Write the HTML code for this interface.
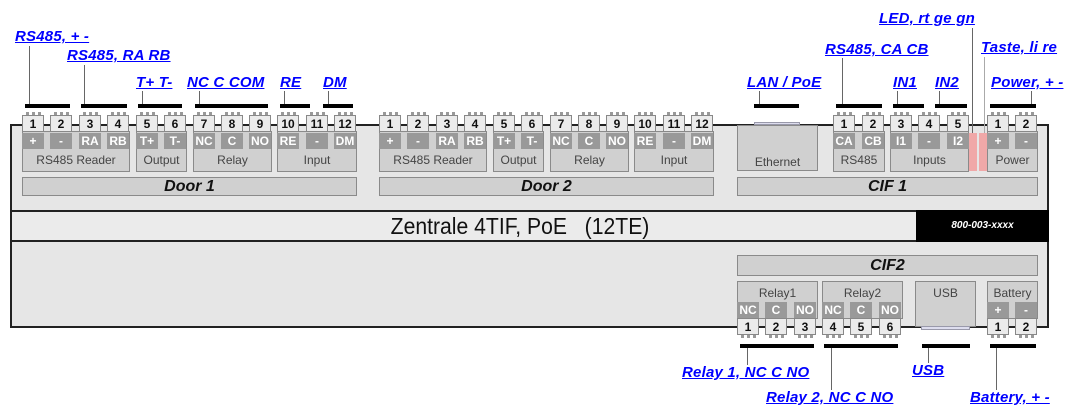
<!DOCTYPE html>
<html><head><meta charset="utf-8"><style>
*{margin:0;padding:0;box-sizing:border-box}
body{width:1083px;height:417px;background:#fff;position:relative;overflow:hidden;font-family:"Liberation Sans",sans-serif}
div{position:absolute}
.main{left:10px;top:124px;width:1039px;height:204px;background:#e6e6e6;border:2px solid #222}
.band{left:10px;top:210px;width:1039px;height:32px;background:#ebebeb;border:2px solid #222}
.serial{left:916px;top:210px;width:133px;height:32px;background:#000;color:#fff;font-style:italic;font-weight:bold;font-size:10px;text-align:center;line-height:32px}
.title{left:300px;top:210px;width:440px;height:32px;text-align:center;line-height:32px;font-size:23px;color:#111;transform:scaleX(0.92)}
.g{background:#d0d0d0;border:1px solid #8a8a8a;color:#444;font-size:12px;text-align:center}
.gt{top:131px;height:41px;line-height:56px}
.bar{background:#d0d0d0;border:1px solid #8a8a8a;font-weight:bold;font-style:italic;font-size:16px;text-align:center;color:#111}
.n{width:22px;height:17px;background:#ebebeb;border:1px solid #888;font-size:12px;font-weight:bold;text-align:center;line-height:16px;color:#111}
.n::before{content:"";position:absolute;left:3px;width:15px;height:3px;background:repeating-linear-gradient(90deg,#999 0 3px,transparent 3px 6px)}
.nt{top:115px}.nt::before{top:-4px}
.nb{top:318px}.nb::before{bottom:-4px}
.l{width:22px;height:16px;background:#999;color:#fff;font-size:12px;font-weight:bold;text-align:center;line-height:16px}
.lt{top:133px}.lb{top:302px}
.k{height:4px;background:#000}
.v{width:1px;background:#666}
.a{color:#00f;font-weight:bold;font-style:italic;text-decoration:underline;font-size:15px;white-space:nowrap;line-height:16px;letter-spacing:0.2px}
</style></head><body>
<div class="main"></div>
<div class="band"></div>
<div class="serial">800-003-xxxx</div>
<div class="title">Zentrale 4TIF, PoE &nbsp;&nbsp;(12TE)</div>

<div class="g gt" style="left:22px;width:108px">RS485 Reader</div>
<div class="g gt" style="left:136px;width:51px">Output</div>
<div class="g gt" style="left:193px;width:79px">Relay</div>
<div class="g gt" style="left:277px;width:80px">Input</div>
<div class="bar" style="left:22px;top:177px;width:335px;height:19px;line-height:18px">Door 1</div>
<div class="g gt" style="left:379px;width:108px">RS485 Reader</div>
<div class="g gt" style="left:493px;width:51px">Output</div>
<div class="g gt" style="left:550px;width:79px">Relay</div>
<div class="g gt" style="left:634px;width:80px">Input</div>
<div class="bar" style="left:379px;top:177px;width:335px;height:19px;line-height:18px">Door 2</div>
<div class="g" style="left:737px;top:125px;width:81px;height:46px;line-height:72px">Ethernet</div>
<div style="left:754px;top:122px;width:46px;height:3px;background:#dde;border:1px solid #99a"></div>
<div class="g gt" style="left:833px;width:52px">RS485</div>
<div class="g gt" style="left:890px;width:79px">Inputs</div>
<div class="g gt" style="left:987px;width:51px">Power</div>
<div style="left:969px;top:133px;width:8px;height:38px;background:#f0a8a8"></div>
<div style="left:979px;top:133px;width:8px;height:38px;background:#f0a8a8"></div>
<div class="bar" style="left:737px;top:177px;width:301px;height:19px;line-height:18px">CIF 1</div>
<div class="bar" style="left:737px;top:255px;width:301px;height:21px;line-height:20px">CIF2</div>
<div class="g" style="left:737px;top:281px;width:81px;height:38px;line-height:22px">Relay1</div>
<div class="g" style="left:822px;top:281px;width:81px;height:38px;line-height:22px">Relay2</div>
<div class="g" style="left:915px;top:281px;width:61px;height:46px;line-height:22px">USB</div>
<div style="left:921px;top:326px;width:49px;height:4px;background:#dde;border:1px solid #99a"></div>
<div class="g" style="left:987px;top:281px;width:51px;height:38px;line-height:22px">Battery</div>

<div class="n nt" style="left:22px">1</div><div class="l lt" style="left:22px">+</div>
<div class="n nt" style="left:50px">2</div><div class="l lt" style="left:50px">-</div>
<div class="n nt" style="left:79px">3</div><div class="l lt" style="left:79px">RA</div>
<div class="n nt" style="left:107px">4</div><div class="l lt" style="left:107px">RB</div>
<div class="n nt" style="left:136px">5</div><div class="l lt" style="left:136px">T+</div>
<div class="n nt" style="left:164px">6</div><div class="l lt" style="left:164px">T-</div>
<div class="n nt" style="left:193px">7</div><div class="l lt" style="left:193px">NC</div>
<div class="n nt" style="left:221px">8</div><div class="l lt" style="left:221px">C</div>
<div class="n nt" style="left:249px">9</div><div class="l lt" style="left:249px">NO</div>
<div class="n nt" style="left:277px">10</div><div class="l lt" style="left:277px">RE</div>
<div class="n nt" style="left:306px">11</div><div class="l lt" style="left:306px">-</div>
<div class="n nt" style="left:334px">12</div><div class="l lt" style="left:334px">DM</div>

<div class="n nt" style="left:379px">1</div><div class="l lt" style="left:379px">+</div>
<div class="n nt" style="left:407px">2</div><div class="l lt" style="left:407px">-</div>
<div class="n nt" style="left:436px">3</div><div class="l lt" style="left:436px">RA</div>
<div class="n nt" style="left:464px">4</div><div class="l lt" style="left:464px">RB</div>
<div class="n nt" style="left:493px">5</div><div class="l lt" style="left:493px">T+</div>
<div class="n nt" style="left:521px">6</div><div class="l lt" style="left:521px">T-</div>
<div class="n nt" style="left:550px">7</div><div class="l lt" style="left:550px">NC</div>
<div class="n nt" style="left:578px">8</div><div class="l lt" style="left:578px">C</div>
<div class="n nt" style="left:606px">9</div><div class="l lt" style="left:606px">NO</div>
<div class="n nt" style="left:634px">10</div><div class="l lt" style="left:634px">RE</div>
<div class="n nt" style="left:663px">11</div><div class="l lt" style="left:663px">-</div>
<div class="n nt" style="left:691px">12</div><div class="l lt" style="left:691px">DM</div>

<div class="n nt" style="left:833px">1</div><div class="l lt" style="left:833px">CA</div>
<div class="n nt" style="left:862px">2</div><div class="l lt" style="left:862px">CB</div>
<div class="n nt" style="left:890px">3</div><div class="l lt" style="left:890px">I1</div>
<div class="n nt" style="left:918px">4</div><div class="l lt" style="left:918px">-</div>
<div class="n nt" style="left:947px">5</div><div class="l lt" style="left:947px">I2</div>
<div class="n nt" style="left:987px">1</div><div class="l lt" style="left:987px">+</div>
<div class="n nt" style="left:1015px">2</div><div class="l lt" style="left:1015px">-</div>

<div class="n nb" style="left:737px">1</div><div class="l lb" style="left:737px">NC</div>
<div class="n nb" style="left:765px">2</div><div class="l lb" style="left:765px">C</div>
<div class="n nb" style="left:794px">3</div><div class="l lb" style="left:794px">NO</div>
<div class="n nb" style="left:822px">4</div><div class="l lb" style="left:822px">NC</div>
<div class="n nb" style="left:850px">5</div><div class="l lb" style="left:850px">C</div>
<div class="n nb" style="left:879px">6</div><div class="l lb" style="left:879px">NO</div>
<div class="n nb" style="left:987px">1</div><div class="l lb" style="left:987px">+</div>
<div class="n nb" style="left:1015px">2</div><div class="l lb" style="left:1015px">-</div>

<div class="k" style="left:25px;top:104px;width:45px"></div><div class="v" style="left:29px;top:46px;height:58px"></div>
<div class="k" style="left:81px;top:104px;width:46px"></div><div class="v" style="left:84px;top:65px;height:39px"></div>
<div class="k" style="left:138px;top:104px;width:44px"></div><div class="v" style="left:142px;top:91px;height:13px"></div>
<div class="k" style="left:195px;top:104px;width:73px"></div><div class="v" style="left:199px;top:91px;height:13px"></div>
<div class="k" style="left:280px;top:104px;width:30px"></div><div class="v" style="left:284px;top:91px;height:13px"></div>
<div class="k" style="left:323px;top:104px;width:30px"></div><div class="v" style="left:328px;top:91px;height:13px"></div>
<div class="k" style="left:754px;top:104px;width:45px"></div><div class="v" style="left:759px;top:91px;height:13px"></div>
<div class="k" style="left:836px;top:104px;width:46px"></div><div class="v" style="left:842px;top:58px;height:46px"></div>
<div class="k" style="left:893px;top:104px;width:31px"></div><div class="v" style="left:897px;top:91px;height:13px"></div>
<div class="k" style="left:935px;top:104px;width:32px"></div><div class="v" style="left:939px;top:91px;height:13px"></div>
<div class="k" style="left:990px;top:104px;width:46px"></div><div class="v" style="left:1031px;top:91px;height:13px"></div>
<div class="v" style="left:972px;top:28px;height:105px"></div>
<div class="v" style="left:984px;top:57px;height:76px;background:#aaa"></div>

<div class="k" style="left:740px;top:344px;width:74px"></div><div class="v" style="left:747px;top:348px;height:17px"></div>
<div class="k" style="left:824px;top:344px;width:74px"></div><div class="v" style="left:831px;top:348px;height:42px"></div>
<div class="k" style="left:922px;top:344px;width:48px"></div><div class="v" style="left:928px;top:348px;height:15px"></div>
<div class="k" style="left:990px;top:344px;width:46px"></div><div class="v" style="left:996px;top:348px;height:42px"></div>

<div class="a" style="left:15px;top:29px">RS485, + -</div>
<div class="a" style="left:67px;top:48px">RS485, RA RB</div>
<div class="a" style="left:136px;top:75px">T+ T-</div>
<div class="a" style="left:187px;top:75px">NC C COM</div>
<div class="a" style="left:280px;top:75px">RE</div>
<div class="a" style="left:323px;top:75px">DM</div>
<div class="a" style="left:747px;top:75px">LAN / PoE</div>
<div class="a" style="left:825px;top:42px">RS485, CA CB</div>
<div class="a" style="left:893px;top:75px">IN1</div>
<div class="a" style="left:935px;top:75px">IN2</div>
<div class="a" style="left:879px;top:11px">LED, rt ge gn</div>
<div class="a" style="left:981px;top:40px">Taste, li re</div>
<div class="a" style="left:991px;top:75px">Power, + -</div>
<div class="a" style="left:682px;top:365px">Relay 1, NC C NO</div>
<div class="a" style="left:766px;top:390px">Relay 2, NC C NO</div>
<div class="a" style="left:912px;top:363px">USB</div>
<div class="a" style="left:970px;top:390px">Battery, + -</div>
</body></html>
